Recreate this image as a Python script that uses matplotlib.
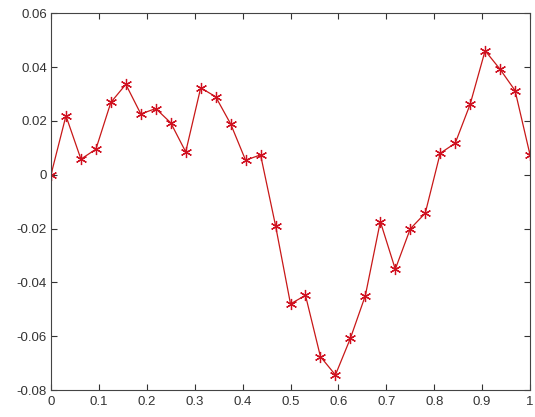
import numpy as np
import matplotlib
matplotlib.use("Agg")
import matplotlib.pyplot as plt
from matplotlib.ticker import FuncFormatter

# Sample positions (33 points from 0 to 1)
x = np.linspace(0, 1, 33)

# Values
y = [0.0, 0.0219, 0.0058, 0.0095, 0.0269, 0.0336, 0.0226, 0.0246, 0.0193,
     0.0085, 0.0323, 0.0290, 0.0189, 0.0054, 0.0074, -0.0189, -0.0480,
     -0.0448, -0.0676, -0.0744, -0.0608, -0.0449, -0.0174, -0.0351,
     -0.0201, -0.0143, 0.0080, 0.0117, 0.0262, 0.0461, 0.0392, 0.0313,
     0.0074]

x_ticks = [0, 0.1, 0.2, 0.3, 0.4, 0.5, 0.6, 0.7, 0.8, 0.9, 1]
y_ticks = [-0.08, -0.06, -0.04, -0.02, 0, 0.02, 0.04, 0.06]

plt.rcParams["font.family"] = ["Liberation Sans", "DejaVu Sans"]
plt.rcParams["axes.unicode_minus"] = False

fig = plt.figure(figsize=(5.35, 4.17), dpi=100)
ax = fig.add_axes([0.0953, 0.0647, 0.8954, 0.9034])

# MATLAB-style asterisk marker
ax.plot(x, y, color="#c81818", linewidth=0.9,
        marker=(6, 2, 0), markersize=8, markeredgewidth=0.9,
        markeredgecolor="#d01020")

ax.set_xlim(0, 1)
ax.set_ylim(-0.08, 0.06)
ax.set_xticks(x_ticks)
ax.set_yticks(y_ticks)
fmt = FuncFormatter(lambda v, p: "%g" % round(v, 4))
ax.xaxis.set_major_formatter(fmt)
ax.yaxis.set_major_formatter(fmt)

ax.tick_params(direction="in", top=True, right=True, length=4,
               width=0.8, labelsize=9.5, colors="#333333")
ax.tick_params(axis="x", pad=4)
ax.tick_params(axis="y", pad=3)
for s in ax.spines.values():
    s.set_color("#444444")
    s.set_linewidth(0.8)

fig.savefig("out.png", dpi=100)
